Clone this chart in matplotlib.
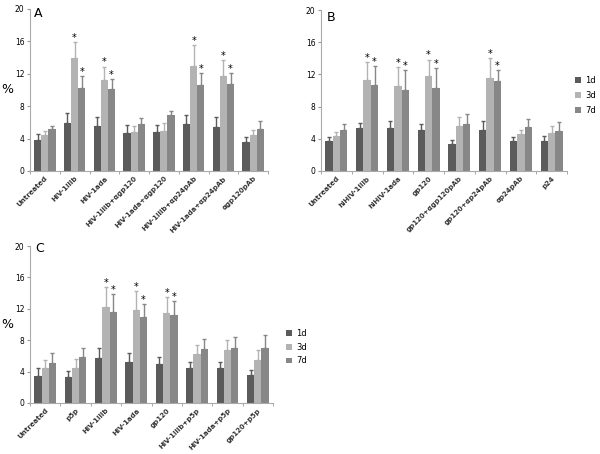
import matplotlib.pyplot as plt
import numpy as np

days = ['1d', '3d', '7d']
colors = ['#5b5b5b', '#b3b3b3', '#878787']

# panel A
cats_a = ['Untreated', 'HIV-1IIIb', 'HIV-1ada', 'HIV-1IIIb+αgp120', 'HIV-1ada+αgp120',
          'HIV-1IIIb+αp24pAb', 'HIV-1ada+αp24pAb', 'αgp120pAb']
a_1d = [3.8, 5.9, 5.5, 4.7, 4.8, 5.8, 5.4, 3.6]
a_3d = [4.4, 13.95, 11.25, 4.8, 4.9, 13.0, 11.7, 4.45]
a_7d = [5.2, 10.3, 10.1, 5.8, 6.9, 10.6, 10.8, 5.2]
a_1d_err = [0.8, 1.3, 1.2, 1.0, 0.9, 1.15, 1.3, 0.65]
a_3d_err = [0.55, 2.0, 1.65, 0.8, 1.0, 2.6, 2.0, 0.65]
a_7d_err = [0.4, 1.4, 1.3, 0.8, 0.5, 1.55, 1.35, 1.0]
a_sig = [1, 2, 5, 6]

# panel B
cats_b = ['Untreated', 'hiHIV-1IIIb', 'hiHIV-1ada', 'gp120', 'gp120+αgp120pAb',
          'gp120+αp24pAb', 'αp24pAb', 'p24']
b_1d = [3.75, 5.3, 5.4, 5.15, 3.35, 5.1, 3.7, 3.75]
b_3d = [4.4, 11.3, 10.6, 11.8, 5.65, 11.6, 4.65, 4.75]
b_7d = [5.15, 10.7, 10.1, 10.3, 5.8, 11.2, 5.5, 5.0]
b_1d_err = [0.5, 0.7, 0.8, 0.65, 0.55, 1.1, 0.55, 0.65]
b_3d_err = [0.4, 2.2, 2.3, 2.05, 1.05, 2.4, 0.45, 0.9]
b_7d_err = [0.75, 2.3, 2.4, 2.5, 1.3, 1.4, 1.0, 1.1]
b_sig = [1, 2, 3, 5]

# panel C
cats_c = ['Untreated', 'p5p', 'HIV-1IIIb', 'HIV-1ada', 'gp120', 'HIV-1IIIb+p5p',
          'HIV-1ada+p5p', 'gp120+p5p']
c_1d = [3.45, 3.35, 5.7, 5.2, 5.0, 4.4, 4.5, 3.55]
c_3d = [4.5, 4.45, 12.2, 11.8, 11.45, 6.2, 6.7, 5.5]
c_7d = [5.05, 5.9, 11.6, 10.9, 11.15, 6.85, 7.0, 7.05]
c_1d_err = [0.95, 0.75, 1.3, 1.2, 0.9, 0.8, 0.7, 0.7]
c_3d_err = [1.0, 1.2, 2.6, 2.5, 2.05, 1.25, 1.3, 1.25]
c_7d_err = [1.3, 1.15, 2.3, 1.7, 1.9, 1.3, 1.45, 1.6]
c_sig = [2, 3, 4]

plt.rcParams['font.family'] = ['DejaVu Sans']
fig = plt.figure(figsize=(6, 4.54), dpi=100)

W, H = 600, 454


def panel(rect, label, label_xy, cats, vals, errs, sig, ylabel=True,
          legend_pos=None, legend_sp=0.6):
    l, t, r, b = rect
    ax = fig.add_axes([l / W, 1 - b / H, (r - l) / W, (b - t) / H])
    x = np.arange(len(cats))
    w = 0.24
    for i in range(3):
        ax.bar(x + (i - 1) * w, vals[i], w, color=colors[i], label=days[i], zorder=2)
        ax.errorbar(x + (i - 1) * w, vals[i], yerr=[np.zeros(len(cats)), errs[i]],
                    fmt='none', ecolor=colors[i], elinewidth=1.0, capsize=1.5,
                    capthick=1.0, zorder=3)
    for j in sig:
        for i in (1, 2):
            ax.text(x[j] + (i - 1) * w, vals[i][j] + errs[i][j] + 0.5, '*',
                    ha='center', va='center', fontsize=7)
    ax.set_xlim(-0.5, len(cats) - 0.5)
    ax.set_ylim(0, 20)
    ax.set_yticks([0, 4, 8, 12, 16, 20])
    ax.tick_params(axis='y', labelsize=5.5, length=2, color='#999999', pad=2)
    ax.set_xticks(x)
    ax.set_xticklabels(cats, rotation=45, ha='right', rotation_mode='anchor',
                       fontsize=5, fontweight='bold', color='#333333')
    ax.tick_params(axis='x', length=0, pad=3)
    ax.set_xticks(np.arange(len(cats) + 1) - 0.5, minor=True)
    ax.tick_params(axis='x', which='minor', length=2, color='#999999')
    for s in ('top', 'right'):
        ax.spines[s].set_visible(False)
    for s in ('left', 'bottom'):
        ax.spines[s].set_color('#aaaaaa')
        ax.spines[s].set_linewidth(0.8)
    ax.text(label_xy[0], label_xy[1], label, transform=ax.transAxes, fontsize=9,
            ha='left', va='center')
    if ylabel:
        ax.set_ylabel('%', rotation=0, fontsize=9, va='center', ha='center')
        ax.yaxis.set_label_coords(-0.095, 0.5)
    if legend_pos is not None:
        ax.legend(loc='center left', bbox_to_anchor=legend_pos, frameon=False,
                  fontsize=6, handlelength=0.7, handleheight=0.7,
                  handletextpad=0.5, labelspacing=legend_sp, borderaxespad=0)
    return ax


panel((30, 9, 268, 171), 'A', (0.015, 0.97), cats_a, [a_1d, a_3d, a_7d],
      [a_1d_err, a_3d_err, a_7d_err], a_sig)
panel((321, 10, 567, 171), 'B', (0.025, 0.955), cats_b, [b_1d, b_3d, b_7d],
      [b_1d_err, b_3d_err, b_7d_err], b_sig, ylabel=False,
      legend_pos=(1.02, 0.47), legend_sp=0.75)
panel((30, 246, 273, 403), 'C', (0.02, 0.985), cats_c, [c_1d, c_3d, c_7d],
      [c_1d_err, c_3d_err, c_7d_err], c_sig,
      legend_pos=(1.04, 0.355), legend_sp=0.55)

fig.savefig('out.png', dpi=100, facecolor='white')
